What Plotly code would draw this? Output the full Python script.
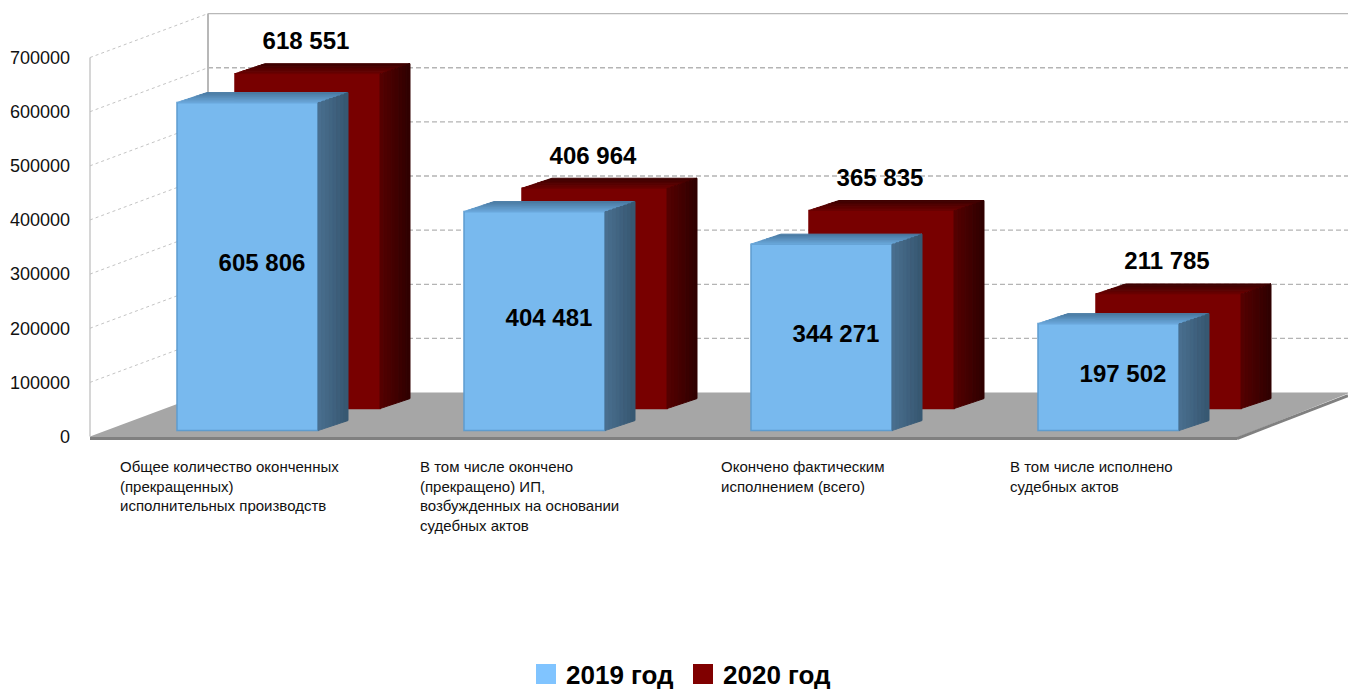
import plotly.graph_objects as go

categories = [
    "Общее количество оконченных<br>(прекращенных)<br>исполнительных производств",
    "В том числе окончено<br>(прекращено) ИП,<br>возбужденных на основании<br>судебных актов",
    "Окончено фактическим<br>исполнением (всего)",
    "В том числе исполнено<br>судебных актов",
]
values_2019 = [605806, 404481, 344271, 197502]
values_2020 = [618551, 406964, 365835, 211785]
labels_2019 = ["605 806", "404 481", "344 271", "197 502"]
labels_2020 = ["618 551", "406 964", "365 835", "211 785"]
axis_ticks = [0, 100000, 200000, 300000, 400000, 500000, 600000, 700000]

W, H = 1348, 690
PLOT_BOTTOM = 651.2       # the legend reserves the strip below this
FONT = "Liberation Sans"
BAR_STEP = 287.0          # pixels per category
Y_SCALE = 54.2 / 100000   # pixels per value unit
ORIGIN_X, ORIGIN_Y = 247.5, 431.0   # first 2019 bar centre / its baseline


def ux(px):
    return px / BAR_STEP


def uy(px):
    return px / Y_SCALE


def X(px):
    return (px - ORIGIN_X) / BAR_STEP


def Y(py):
    return (ORIGIN_Y - py) / Y_SCALE


def lerp_hex(a, b, t):
    ca = [int(a[i:i + 2], 16) for i in (1, 3, 5)]
    cb = [int(b[i:i + 2], 16) for i in (1, 3, 5)]
    return "#" + "".join(f"{round(p + (q - p) * t):02x}" for p, q in zip(ca, cb))


fig = go.Figure()

series = [
    dict(name="2020 год", vals=values_2020, dx=60.0, width=145.0, base=22.0, face="#780000",
         top=("#6e0000", "#3c0000"), side=("#560000", "#2e0000"), line="#780000"),
    dict(name="2019 год", vals=values_2019, dx=0.0, width=141.0, base=0.0, face="#78b9ee",
         top=("#6caade", "#4a7aa2"), side=("#4a7090", "#365670"), line="#5e9ccf"),
]
DEPTH_X, DEPTH_Y = 30.0, 10.0
STRIPS = 8

for s in series:
    fig.add_bar(
        x=[i + ux(s["dx"]) for i in range(4)], y=s["vals"], base=uy(s["base"]),
        width=ux(s["width"]), marker=dict(color=s["face"], line=dict(color=s["line"], width=1.5)),
        showlegend=False, hoverinfo="skip",
    )

for s in series:
    half = ux(s["width"]) / 2
    for k in range(STRIPS):
        t0, t1 = k / STRIPS, (k + 1) / STRIPS
        # top face strip
        xs, ys = [], []
        for i, v in enumerate(s["vals"]):
            c = i + ux(s["dx"])
            top = v + uy(s["base"])
            xs += [c - half + ux(DEPTH_X) * t0, c + half + ux(DEPTH_X) * t0,
                   c + half + ux(DEPTH_X) * t1, c - half + ux(DEPTH_X) * t1,
                   c - half + ux(DEPTH_X) * t0, None]
            ys += [top + uy(DEPTH_Y) * t0, top + uy(DEPTH_Y) * t0,
                   top + uy(DEPTH_Y) * t1, top + uy(DEPTH_Y) * t1,
                   top + uy(DEPTH_Y) * t0, None]
        col = lerp_hex(s["top"][0], s["top"][1], (k + 0.5) / STRIPS)
        fig.add_scatter(x=xs, y=ys, mode="lines", fill="toself", fillcolor=col,
                        line=dict(color=col, width=1), showlegend=False, hoverinfo="skip")
        # side face strip
        xs, ys = [], []
        for i, v in enumerate(s["vals"]):
            c = i + ux(s["dx"]) + half
            b = uy(s["base"])
            top = v + b
            xs += [c + ux(DEPTH_X) * t0, c + ux(DEPTH_X) * t1, c + ux(DEPTH_X) * t1,
                   c + ux(DEPTH_X) * t0, c + ux(DEPTH_X) * t0, None]
            ys += [b + uy(DEPTH_Y) * t0, b + uy(DEPTH_Y) * t1, top + uy(DEPTH_Y) * t1,
                   top + uy(DEPTH_Y) * t0, b + uy(DEPTH_Y) * t0, None]
        col = lerp_hex(s["side"][0], s["side"][1], (k + 0.5) / STRIPS)
        fig.add_scatter(x=xs, y=ys, mode="lines", fill="toself", fillcolor=col,
                        line=dict(color=col, width=1), showlegend=False, hoverinfo="skip")

label_font = dict(family=FONT, size=24, color="black", weight="bold")
fig.add_scatter(
    x=[i + ux(60 - 1.5) for i in range(4)],
    y=[v + uy(22 + 30.5) for v in values_2020],
    text=labels_2020, mode="text", textposition="middle center",
    textfont=label_font, showlegend=False, hoverinfo="skip",
)
fig.add_scatter(
    x=[i + ux(14.5) for i in range(4)],
    y=[v / 2 + uy(1.5) for v in values_2019],
    text=labels_2019, mode="text", textposition="middle center",
    textfont=label_font, showlegend=False, hoverinfo="skip",
)

# legend keys
for name, col in (("2019 год", "#80c4ff"), ("2020 год", "#800000")):
    fig.add_scatter(x=[None], y=[None], mode="markers", name=name,
                    marker=dict(symbol="square", size=20, color=col,
                                line=dict(color=col, width=4)))

# carrier for the value axis with its tick labels
fig.add_scatter(x=[0, 0], y=[axis_ticks[0], axis_ticks[-1]], yaxis="y2", mode="lines",
                line=dict(width=0, color="rgba(0,0,0,0)"), showlegend=False, hoverinfo="skip")

shapes = []
LEFT_X, BACK_X = 90.0, 208.0
LEFT_Y0, BACK_Y0 = 437.0, 393.0
RIGHT_X = 1237.0


def poly(pts, **kw):
    d = "M" + "L".join(f"{X(a):.5f},{Y(b):.1f}" for a, b in pts) + "Z"
    return dict(type="path", path=d, xref="x", yref="y", layer="below", **kw)


def seg(x0, y0, x1, y1, color, width=1, dash="solid"):
    return dict(type="line", xref="x", yref="y", layer="below",
                x0=X(x0), y0=Y(y0), x1=X(x1), y1=Y(y1),
                line=dict(color=color, width=width, dash=dash))


for t in axis_ticks[1:]:
    h = t * Y_SCALE
    shapes.append(seg(LEFT_X, LEFT_Y0 - h, BACK_X, BACK_Y0 - h, "#c4c4c4", 1, "3px,3px"))
    if t != axis_ticks[-1]:
        shapes.append(seg(BACK_X, BACK_Y0 - h, W, BACK_Y0 - h, "#b4b4b4", 1.3, "5px,3px"))
h_top = axis_ticks[-1] * Y_SCALE
shapes.append(seg(BACK_X, BACK_Y0 - h_top, W, BACK_Y0 - h_top, "#b8b8b8", 1.3))
shapes.append(seg(BACK_X, BACK_Y0, BACK_X, BACK_Y0 - h_top, "#b8b8b8", 2))
shapes.append(seg(LEFT_X, LEFT_Y0, LEFT_X, LEFT_Y0 - h_top, "#c0c0c0", 1.3))
shapes.append(poly([(LEFT_X, LEFT_Y0), (BACK_X, BACK_Y0), (W, BACK_Y0),
                    (W, BACK_Y0 + 1), (RIGHT_X, LEFT_Y0 + 1), (LEFT_X, LEFT_Y0 + 1)],
                   fillcolor="#a6a6a6", line=dict(width=0)))
shapes.append(seg(LEFT_X, LEFT_Y0 + 2, RIGHT_X, LEFT_Y0 + 2, "#808080", 3))
shapes.append(seg(RIGHT_X, LEFT_Y0 + 2, W, BACK_Y0 + 3, "#808080", 3))

label_px = [118, 418, 719, 1008]
annotations = [
    dict(text=c, x=X(px), xref="x", y=Y(456), yref="y", xanchor="left",
         yanchor="top", align="left", showarrow=False,
         font=dict(family=FONT, size=15, color="#111111"))
    for c, px in zip(categories, label_px)
]

fig.update_layout(
    width=W, height=H, autosize=False, barmode="overlay",
    margin=dict(l=0, r=0, t=0, b=0), paper_bgcolor="white", plot_bgcolor="white",
    xaxis=dict(range=[X(0), X(W)], visible=False, fixedrange=True),
    yaxis=dict(range=[Y(PLOT_BOTTOM), Y(0)], visible=False, fixedrange=True),
    yaxis2=dict(
        range=[-(PLOT_BOTTOM - 437) / Y_SCALE, 437 / Y_SCALE], overlaying="y", side="left",
        anchor="free", position=70 / W, tickmode="array", tickvals=axis_ticks,
        ticktext=[str(t) for t in axis_ticks], showgrid=False, zeroline=False,
        showline=False, ticks="", tickfont=dict(family=FONT, size=18, color="#111111"),
        fixedrange=True,
    ),
    legend=dict(orientation="h", xref="container", yref="container",
                x=526 / W, xanchor="left", y=1 - 674 / H, yanchor="middle",
                entrywidth=112, entrywidthmode="pixels",
                font=dict(family=FONT, size=26, color="black", weight="bold"),
                bgcolor="rgba(0,0,0,0)"),
    shapes=shapes, annotations=annotations, showlegend=True,
)

fig.write_html("out.html", config={"displayModeBar": False},
               post_script="document.body.style.margin='0';")
